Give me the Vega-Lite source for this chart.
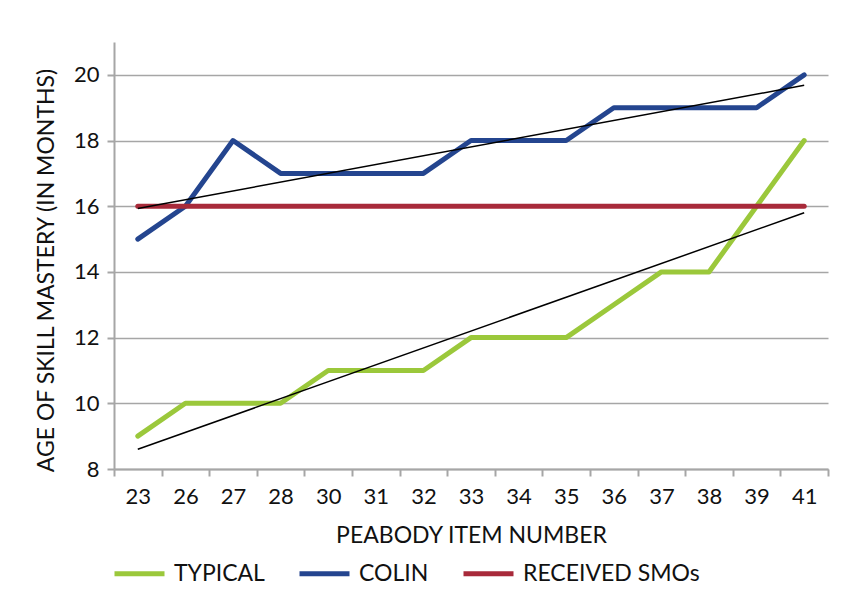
{
  "$schema": "https://vega.github.io/schema/vega-lite/v6.json",
  "autosize": "none",
  "width": 714,
  "height": 427,
  "padding": {"left": 114, "top": 42, "right": 19, "bottom": 142},
  "background": "white",
  "config": {
    "font": "Lato",
    "view": {"stroke": null},
    "axis": {
      "labelFont": "Lato", "titleFont": "Lato",
      "labelFontSize": 22, "labelColor": "#111111",
      "titleFontSize": 23, "titleFontWeight": "normal", "titleColor": "#111111",
      "domainColor": "#a6a6a6", "domainWidth": 2,
      "tickColor": "#a6a6a6", "tickWidth": 2, "tickSize": 7,
      "gridColor": "#a6a6a6", "gridWidth": 1.5
    },
    "legend": {"labelFont": "Lato", "labelFontSize": 23, "labelColor": "#111111", "labelLimit": 400}
  },
  "datasets": {
    "series": [
      {"item": 23, "value": 9, "series": "TYPICAL"},
      {"item": 26, "value": 10, "series": "TYPICAL"},
      {"item": 27, "value": 10, "series": "TYPICAL"},
      {"item": 28, "value": 10, "series": "TYPICAL"},
      {"item": 30, "value": 11, "series": "TYPICAL"},
      {"item": 31, "value": 11, "series": "TYPICAL"},
      {"item": 32, "value": 11, "series": "TYPICAL"},
      {"item": 33, "value": 12, "series": "TYPICAL"},
      {"item": 34, "value": 12, "series": "TYPICAL"},
      {"item": 35, "value": 12, "series": "TYPICAL"},
      {"item": 36, "value": 13, "series": "TYPICAL"},
      {"item": 37, "value": 14, "series": "TYPICAL"},
      {"item": 38, "value": 14, "series": "TYPICAL"},
      {"item": 39, "value": 16, "series": "TYPICAL"},
      {"item": 41, "value": 18, "series": "TYPICAL"},
      {"item": 23, "value": 15, "series": "COLIN"},
      {"item": 26, "value": 16, "series": "COLIN"},
      {"item": 27, "value": 18, "series": "COLIN"},
      {"item": 28, "value": 17, "series": "COLIN"},
      {"item": 30, "value": 17, "series": "COLIN"},
      {"item": 31, "value": 17, "series": "COLIN"},
      {"item": 32, "value": 17, "series": "COLIN"},
      {"item": 33, "value": 18, "series": "COLIN"},
      {"item": 34, "value": 18, "series": "COLIN"},
      {"item": 35, "value": 18, "series": "COLIN"},
      {"item": 36, "value": 19, "series": "COLIN"},
      {"item": 37, "value": 19, "series": "COLIN"},
      {"item": 38, "value": 19, "series": "COLIN"},
      {"item": 39, "value": 19, "series": "COLIN"},
      {"item": 41, "value": 20, "series": "COLIN"},
      {"item": 23, "value": 16, "series": "RECEIVED SMOs"},
      {"item": 26, "value": 16, "series": "RECEIVED SMOs"},
      {"item": 27, "value": 16, "series": "RECEIVED SMOs"},
      {"item": 28, "value": 16, "series": "RECEIVED SMOs"},
      {"item": 30, "value": 16, "series": "RECEIVED SMOs"},
      {"item": 31, "value": 16, "series": "RECEIVED SMOs"},
      {"item": 32, "value": 16, "series": "RECEIVED SMOs"},
      {"item": 33, "value": 16, "series": "RECEIVED SMOs"},
      {"item": 34, "value": 16, "series": "RECEIVED SMOs"},
      {"item": 35, "value": 16, "series": "RECEIVED SMOs"},
      {"item": 36, "value": 16, "series": "RECEIVED SMOs"},
      {"item": 37, "value": 16, "series": "RECEIVED SMOs"},
      {"item": 38, "value": 16, "series": "RECEIVED SMOs"},
      {"item": 39, "value": 16, "series": "RECEIVED SMOs"},
      {"item": 41, "value": 16, "series": "RECEIVED SMOs"}
    ],
    "trend": [
      {"item": 23, "value": 8.6, "trend": "TYPICAL"},
      {"item": 41, "value": 15.8, "trend": "TYPICAL"},
      {"item": 23, "value": 15.93, "trend": "COLIN"},
      {"item": 41, "value": 19.68, "trend": "COLIN"}
    ]
  },
  "encoding": {
    "x": {
      "field": "item", "type": "ordinal",
      "scale": {"type": "band", "paddingInner": 0, "paddingOuter": 0},
      "axis": {"title": "PEABODY ITEM NUMBER", "labelAngle": 0, "tickBand": "extent", "labelPadding": 10, "titlePadding": 17, "grid": false}
    },
    "y": {
      "field": "value", "type": "quantitative",
      "scale": {"domain": [8, 21], "nice": false, "zero": false},
      "axis": {"title": "AGE OF SKILL MASTERY (IN MONTHS)", "values": [8, 10, 12, 14, 16, 18, 20], "grid": true, "labelPadding": 8, "titlePadding": 15, "titleY": 228}
    }
  },
  "layer": [
    {
      "data": {"name": "series"},
      "mark": {"type": "line", "strokeWidth": 5, "strokeCap": "round", "strokeJoin": "round"},
      "encoding": {
        "color": {
          "field": "series", "type": "nominal",
          "scale": {"domain": ["TYPICAL", "COLIN", "RECEIVED SMOs"], "range": ["#9bc83b", "#24458f", "#a82a3a"]},
          "legend": {
            "title": null, "orient": "none", "direction": "horizontal",
            "legendX": -2, "legendY": 504,
            "symbolType": "stroke", "symbolStrokeWidth": 5, "symbolSize": 2500,
            "labelOffset": 7, "columnPadding": 24
          }
        }
      }
    },
    {
      "data": {"name": "trend"},
      "mark": {"type": "line", "strokeWidth": 1.5, "color": "black"},
      "encoding": {"detail": {"field": "trend"}}
    }
  ]
}
